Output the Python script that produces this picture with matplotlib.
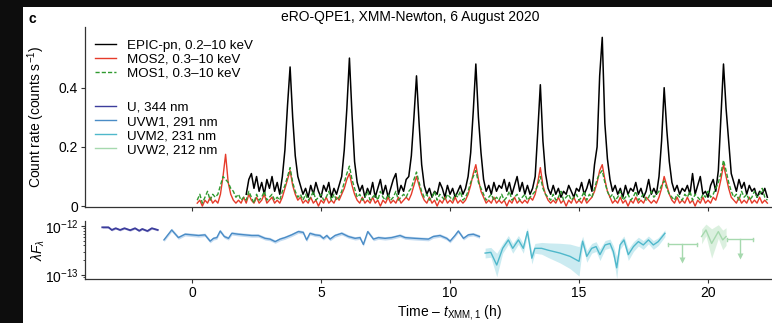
import numpy as np
import matplotlib
matplotlib.use("Agg")
import matplotlib.pyplot as plt
from matplotlib.lines import Line2D
from matplotlib.patches import Rectangle
from matplotlib.ticker import LogLocator, NullFormatter

plt.rcParams['font.family'] = ['Liberation Sans', 'DejaVu Sans']
plt.rcParams['font.size'] = 10
plt.rcParams['mathtext.fontset'] = 'custom'
plt.rcParams['mathtext.rm'] = 'Liberation Sans'
plt.rcParams['mathtext.it'] = 'Liberation Sans:italic'
plt.rcParams['axes.linewidth'] = 0.9
plt.rcParams['axes.edgecolor'] = '#333333'

########## X-ray light curves (counts s^-1), 0.1 h bins ##########
BIN = 0.1
PN_START = 2.1
MOS_START = 0.2

# EPIC-pn, one row per hour
pn_rate = sum([
    [0.04, 0.09, 0.11, 0.06, 0.10, 0.05, 0.08, 0.04, 0.09],
    [0.06, 0.10, 0.05, 0.08, 0.04, 0.10, 0.19, 0.34, 0.47, 0.30],
    [0.17, 0.10, 0.07, 0.04, 0.06, 0.03, 0.07, 0.04, 0.08, 0.05],
    [0.03, 0.07, 0.05, 0.08, 0.03, 0.06, 0.04, 0.07, 0.10, 0.19],
    [0.33, 0.50, 0.31, 0.15, 0.08, 0.05, 0.07, 0.03, 0.06, 0.04],
    [0.08, 0.03, 0.06, 0.09, 0.04, 0.07, 0.03, 0.06, 0.09, 0.11],
    [0.04, 0.07, 0.05, 0.09, 0.10, 0.17, 0.30, 0.44, 0.28, 0.14],
    [0.07, 0.04, 0.06, 0.03, 0.05, 0.04, 0.08, 0.06, 0.03, 0.07],
    [0.04, 0.06, 0.03, 0.05, 0.07, 0.04, 0.06, 0.10, 0.18, 0.32],
    [0.48, 0.30, 0.18, 0.09, 0.05, 0.07, 0.04, 0.08, 0.05, 0.07],
    [0.06, 0.09, 0.05, 0.08, 0.04, 0.07, 0.10, 0.05, 0.08, 0.04],
    [0.07, 0.04, 0.06, 0.10, 0.25, 0.41, 0.22, 0.11, 0.06, 0.04],
    [0.07, 0.04, 0.06, 0.03, 0.05, 0.04, 0.07, 0.05, 0.03, 0.06],
    [0.05, 0.08, 0.04, 0.06, 0.09, 0.05, 0.14, 0.20, 0.44, 0.57],
    [0.28, 0.16, 0.09, 0.05, 0.07, 0.04, 0.06, 0.03, 0.07, 0.04],
    [0.06, 0.05, 0.08, 0.04, 0.06, 0.03, 0.05, 0.09, 0.04, 0.06],
    [0.04, 0.10, 0.22, 0.40, 0.26, 0.15, 0.08, 0.05, 0.07, 0.04],
    [0.06, 0.05, 0.07, 0.04, 0.11, 0.04, 0.07, 0.10, 0.04, 0.05],
    [0.03, 0.07, 0.09, 0.05, 0.12, 0.30, 0.48, 0.33, 0.22, 0.11],
    [0.08, 0.05, 0.09, 0.06, 0.08, 0.04, 0.07, 0.05, 0.06, 0.03],
    [0.05, 0.04, 0.06, 0.03],
], [])

# MOS2
mos2_rate = sum([
    [0.01, 0.02, 0.00, 0.02, 0.01, 0.03, 0.01, 0.02],
    [0.01, 0.04, 0.10, 0.175, 0.08, 0.04, 0.02, 0.01, 0.02, 0.01],
    [0.03, 0.01, 0.04, 0.02, 0.01, 0.03, 0.01, 0.02, 0.04, 0.01],
    [0.02, 0.03, 0.01, 0.02, 0.01, 0.03, 0.06, 0.09, 0.12, 0.07],
    [0.04, 0.02, 0.03, 0.01, 0.02, 0.01, 0.03, 0.01, 0.02, 0.00],
    [0.02, 0.01, 0.03, 0.01, 0.02, 0.01, 0.03, 0.02, 0.04, 0.06],
    [0.09, 0.11, 0.07, 0.04, 0.02, 0.01, 0.03, 0.01, 0.02, 0.01],
    [0.03, 0.01, 0.02, 0.00, 0.02, 0.01, 0.03, 0.01, 0.02, 0.01],
    [0.03, 0.01, 0.02, 0.03, 0.02, 0.04, 0.07, 0.10, 0.07, 0.04],
    [0.02, 0.01, 0.03, 0.01, 0.02, 0.00, 0.02, 0.01, 0.03, 0.01],
    [0.02, 0.01, 0.03, 0.01, 0.02, 0.01, 0.02, 0.04, 0.07, 0.11],
    [0.14, 0.09, 0.05, 0.03, 0.01, 0.02, 0.01, 0.03, 0.01, 0.02],
    [0.01, 0.02, 0.00, 0.02, 0.01, 0.03, 0.01, 0.02, 0.01, 0.02],
    [0.01, 0.03, 0.02, 0.04, 0.08, 0.13, 0.07, 0.04, 0.02, 0.01],
    [0.02, 0.01, 0.03, 0.01, 0.02, 0.00, 0.02, 0.01, 0.03, 0.01],
    [0.02, 0.01, 0.03, 0.01, 0.02, 0.03, 0.05, 0.08, 0.12, 0.14],
    [0.09, 0.05, 0.03, 0.01, 0.02, 0.01, 0.03, 0.01, 0.02, 0.00],
    [0.02, 0.01, 0.03, 0.01, 0.02, 0.01, 0.03, 0.02, 0.01, 0.02],
    [0.01, 0.03, 0.06, 0.10, 0.07, 0.04, 0.02, 0.01, 0.03, 0.01],
    [0.02, 0.01, 0.03, 0.01, 0.02, 0.00, 0.02, 0.01, 0.03, 0.01],
    [0.02, 0.01, 0.03, 0.02, 0.05, 0.09, 0.14, 0.10, 0.06, 0.03],
    [0.02, 0.01, 0.03, 0.01, 0.02, 0.01, 0.03, 0.01, 0.02, 0.01],
    [0.03, 0.01, 0.02, 0.01],
], [])

# MOS1
mos1_rate = sum([
    [0.02, 0.04, 0.01, 0.03, 0.05, 0.02, 0.04, 0.03],
    [0.04, 0.07, 0.10, 0.09, 0.08, 0.06, 0.05, 0.03, 0.04, 0.02],
    [0.03, 0.02, 0.05, 0.03, 0.01, 0.04, 0.02, 0.03, 0.05, 0.02],
    [0.03, 0.04, 0.02, 0.03, 0.02, 0.05, 0.07, 0.10, 0.13, 0.08],
    [0.05, 0.03, 0.04, 0.02, 0.04, 0.02, 0.03, 0.05, 0.02, 0.03],
    [0.04, 0.02, 0.03, 0.05, 0.02, 0.04, 0.02, 0.03, 0.05, 0.08],
    [0.11, 0.135, 0.09, 0.06, 0.03, 0.04, 0.02, 0.03, 0.05, 0.02],
    [0.03, 0.04, 0.02, 0.05, 0.03, 0.02, 0.04, 0.02, 0.03, 0.05],
    [0.02, 0.03, 0.04, 0.03, 0.05, 0.06, 0.09, 0.115, 0.08, 0.05],
    [0.03, 0.04, 0.02, 0.03, 0.05, 0.02, 0.04, 0.03, 0.02, 0.04],
    [0.03, 0.02, 0.04, 0.03, 0.05, 0.02, 0.03, 0.05, 0.08, 0.10],
    [0.12, 0.08, 0.06, 0.04, 0.02, 0.03, 0.04, 0.02, 0.03, 0.02],
    [0.04, 0.02, 0.03, 0.05, 0.02, 0.03, 0.04, 0.02, 0.03, 0.04],
    [0.02, 0.03, 0.04, 0.05, 0.07, 0.10, 0.06, 0.04, 0.03, 0.02],
    [0.04, 0.02, 0.03, 0.05, 0.02, 0.03, 0.04, 0.02, 0.03, 0.04],
    [0.02, 0.03, 0.05, 0.02, 0.04, 0.03, 0.06, 0.09, 0.11, 0.12],
    [0.08, 0.05, 0.03, 0.04, 0.02, 0.03, 0.05, 0.02, 0.03, 0.04],
    [0.02, 0.03, 0.05, 0.02, 0.03, 0.04, 0.02, 0.03, 0.05, 0.03],
    [0.04, 0.05, 0.07, 0.085, 0.06, 0.04, 0.03, 0.02, 0.04, 0.03],
    [0.02, 0.04, 0.03, 0.05, 0.02, 0.04, 0.03, 0.02, 0.04, 0.03],
    [0.05, 0.03, 0.04, 0.06, 0.08, 0.11, 0.155, 0.12, 0.08, 0.05],
    [0.03, 0.04, 0.02, 0.05, 0.03, 0.04, 0.02, 0.03, 0.05, 0.03],
    [0.04, 0.06, 0.03, 0.02],
], [])

########## OM photometry, lambda F_lambda in units of 1e-12 ##########
FLUX_UNIT = 1e-12

u_time = [-3.48, -3.24, -3.11, -2.96, -2.79, -2.62, -2.40, -2.21, -2.05, -1.93, -1.73, -1.56, -1.33]
u_flux = [0.94, 0.94, 0.83, 0.90, 0.83, 0.90, 0.82, 0.90, 0.80, 0.87, 0.79, 0.90, 0.83]

uvw1_time = [-1.09, -0.79, -0.53, -0.27, -0.01, 0.25, 0.50, 0.70, 0.83, 0.96, 1.09, 1.25, 1.41,
             1.54, 1.79, 2.05, 2.31, 2.57, 2.83, 3.02, 3.22, 3.41, 3.60, 3.86, 4.12, 4.31, 4.44,
             4.57, 4.77, 4.96, 5.09, 5.22, 5.35, 5.54, 5.80, 6.06, 6.32, 6.51, 6.64, 6.81, 7.03,
             7.22, 7.48, 7.74, 8.06, 8.26, 8.64, 9.16, 9.35, 9.61, 9.87, 10.00, 10.19, 10.32,
             10.52, 10.71, 10.90, 11.14]
uvw1_flux = [0.52, 0.83, 0.58, 0.68, 0.66, 0.64, 0.66, 0.49, 0.56, 0.58, 0.79, 0.61, 0.56,
             0.71, 0.68, 0.66, 0.64, 0.64, 0.56, 0.54, 0.48, 0.54, 0.58, 0.66, 0.77, 0.74, 0.52,
             0.71, 0.66, 0.64, 0.56, 0.64, 0.54, 0.64, 0.71, 0.61, 0.56, 0.58, 0.42, 0.77, 0.54,
             0.58, 0.56, 0.58, 0.64, 0.58, 0.56, 0.54, 0.61, 0.64, 0.56, 0.49, 0.64, 0.79,
             0.56, 0.66, 0.68, 0.61]
uvw1_err_dex = 0.035

uvm2_time = [11.36, 11.58, 11.81, 12.04, 12.26, 12.43, 12.65, 12.84, 13.00, 13.17, 13.29, 13.55,
             13.81, 14.26, 14.65, 15.00, 15.14, 15.30, 15.49, 15.66, 15.81, 16.01, 16.20, 16.33,
             16.46, 16.59, 16.74, 16.91, 17.11, 17.30, 17.49, 17.69, 17.88, 18.07, 18.33]
uvm2_flux = [0.28, 0.29, 0.16, 0.35, 0.52, 0.35, 0.52, 0.35, 0.77, 0.22, 0.35, 0.35,
             0.32, 0.28, 0.24, 0.19, 0.49, 0.24, 0.35, 0.38, 0.26, 0.41, 0.44, 0.30,
             0.14, 0.41, 0.52, 0.26, 0.38, 0.48, 0.41, 0.52, 0.41, 0.48, 0.71]
uvm2_err_dex = [0.10, 0.10, 0.24, 0.10, 0.09, 0.10, 0.09, 0.10, 0.08, 0.12, 0.10, 0.12,
                0.15, 0.20, 0.25, 0.30, 0.10, 0.12, 0.10, 0.10, 0.12, 0.09, 0.09, 0.12,
                0.22, 0.09, 0.08, 0.12, 0.10, 0.09, 0.09, 0.08, 0.09, 0.08, 0.07]

uvw2_time = [19.75, 19.92, 20.14, 20.40, 20.57, 20.70]
uvw2_flux = [0.61, 0.83, 0.44, 0.77, 0.52, 0.61]
uvw2_err_dex = [0.15, 0.12, 0.30, 0.14, 0.20, 0.18]

# UVW2 upper limits: time span and limit level, arrow tip
uvw2_lim_t0 = [18.45, 20.74]
uvw2_lim_t1 = [19.57, 21.74]
uvw2_lim_flux = [0.42, 0.54]
uvw2_lim_tip = [0.20, 0.24]

########## colours ##########
C_PN, C_MOS2, C_MOS1 = 'black', '#e63b2a', '#2f9a2f'
C_U, C_UVW1, C_UVM2, C_UVW2 = '#3c3d9c', '#4a8cc6', '#4fb8cb', '#a6d9ae'

########## figure ##########
fig = plt.figure(figsize=(7.72, 3.23), dpi=100)
fig.patch.set_facecolor('#0d0d0d')
fig.add_artist(Rectangle((23 / 772, 0), 1, 316 / 323, transform=fig.transFigure,
                         facecolor='white', edgecolor='none', zorder=-10))

XLIM = (-4.15, 22.48)
ax1 = fig.add_axes([85 / 772, 1 - 207 / 323, 687 / 772, 180 / 323])
ax2 = fig.add_axes([85 / 772, 1 - 279 / 323, 687 / 772, 58 / 323])
for ax in (ax1, ax2):
    ax.set_facecolor('none')
    ax.spines['top'].set_visible(False)
    ax.spines['right'].set_visible(False)
    ax.set_xlim(*XLIM)
    ax.set_xticks([0, 5, 10, 15, 20])
    ax.tick_params(length=3, width=0.8, color='#333333', pad=2)

# top panel: X-ray count rates
t_pn = PN_START + BIN * np.arange(len(pn_rate))
t_mos = MOS_START + BIN * np.arange(len(mos2_rate))
ax1.plot(t_pn, pn_rate, color=C_PN, lw=1.1, zorder=3)
ax1.plot(t_mos, mos2_rate, color=C_MOS2, lw=1.0, zorder=4)
ax1.plot(t_mos, mos1_rate, color=C_MOS1, lw=1.0, ls=(0, (3, 1.5)), zorder=5)
ax1.set_ylim(-0.003, 0.605)
ax1.set_yticks([0, 0.2, 0.4])
ax1.set_yticklabels(['0', '0.2', '0.4'])
ax1.set_xticklabels([])
ax1.set_ylabel('Count rate (counts s$^{-1}$)')
ax1.yaxis.set_label_coords(-0.056, 0.5)

LEG = dict(loc='upper left', frameon=False, fontsize=9.6, handlelength=1.6,
           handletextpad=0.8, labelspacing=0.13, borderaxespad=0.0, borderpad=0.4)
leg1 = ax1.legend(handles=[
    Line2D([], [], color=C_PN, lw=1.0, label='EPIC-pn, 0.2\u201310 keV'),
    Line2D([], [], color=C_MOS2, lw=1.0, label='MOS2, 0.3\u201310 keV'),
    Line2D([], [], color=C_MOS1, lw=1.0, ls=(0, (3, 1.5)), label='MOS1, 0.3\u201310 keV'),
], bbox_to_anchor=(0.007, 0.96), **LEG)
ax1.add_artist(leg1)
ax1.legend(handles=[
    Line2D([], [], color=C_U, lw=1.0, label='U, 344 nm'),
    Line2D([], [], color=C_UVW1, lw=1.0, label='UVW1, 291 nm'),
    Line2D([], [], color=C_UVM2, lw=1.0, label='UVM2, 231 nm'),
    Line2D([], [], color=C_UVW2, lw=1.0, label='UVW2, 212 nm'),
], bbox_to_anchor=(0.007, 0.615), **LEG)

# bottom panel: optical/UV fluxes with shaded uncertainties
def band(ax, t, f, err, color, fill, lw=1.0, alpha=0.6):
    f = np.asarray(f) * FLUX_UNIT
    err = np.asarray(err)
    ax.fill_between(t, f * 10 ** -err, f * 10 ** err, color=fill, alpha=alpha, lw=0)
    ax.plot(t, f, color=color, lw=lw)

band(ax2, u_time, u_flux, 0.02, C_U, '#8f90d0', lw=1.3, alpha=0.5)
band(ax2, uvw1_time, uvw1_flux, uvw1_err_dex, C_UVW1, '#9dc4e8')
band(ax2, uvm2_time, uvm2_flux, uvm2_err_dex, C_UVM2, '#a9dfe8')
band(ax2, uvw2_time, uvw2_flux, uvw2_err_dex, C_UVW2, '#cdebd2', alpha=0.7)

for t0, t1, fl, tip in zip(uvw2_lim_t0, uvw2_lim_t1, uvw2_lim_flux, uvw2_lim_tip):
    tm = 0.5 * (t0 + t1)
    ax2.plot([t0, t1], [fl * FLUX_UNIT] * 2, color=C_UVW2, lw=1.0)
    ax2.plot([t0, t0], [fl * FLUX_UNIT * 0.93, fl * FLUX_UNIT * 1.07], color=C_UVW2, lw=1.0)
    ax2.plot([t1, t1], [fl * FLUX_UNIT * 0.93, fl * FLUX_UNIT * 1.07], color=C_UVW2, lw=1.0)
    ax2.plot([tm, tm], [fl * FLUX_UNIT, tip * FLUX_UNIT], color=C_UVW2, lw=1.0)
    ax2.plot([tm], [tip * FLUX_UNIT], marker='v', ms=4, color=C_UVW2, mec='none')

ax2.set_yscale('log')
ax2.set_ylim(10 ** -13.082, 10 ** -11.898)
ax2.yaxis.set_major_locator(LogLocator(base=10, numticks=5))
ax2.yaxis.set_minor_locator(LogLocator(base=10, subs=np.arange(2, 10), numticks=10))
ax2.yaxis.set_minor_formatter(NullFormatter())
ax2.tick_params(axis='y', which='minor', length=1.5, width=0.5)
ax2.set_ylabel(r'$\lambda F_\lambda$')
ax2.yaxis.set_label_coords(-0.056, 0.5)
ax2.set_xlabel('Time \u2013 $t_{\\rm XMM,1}$ (h)')
ax2.xaxis.set_label_coords(0.53, -0.42)

fig.text(410 / 772, 1 - 17 / 323, 'eRO-QPE1, XMM-Newton, 6 August 2020',
         ha='center', va='center', fontsize=10)
fig.text(32 / 772, 1 - 19 / 323, 'c', ha='center', va='center', fontsize=10, fontweight='bold')

fig.savefig('out.png', dpi=100, facecolor=fig.get_facecolor())
